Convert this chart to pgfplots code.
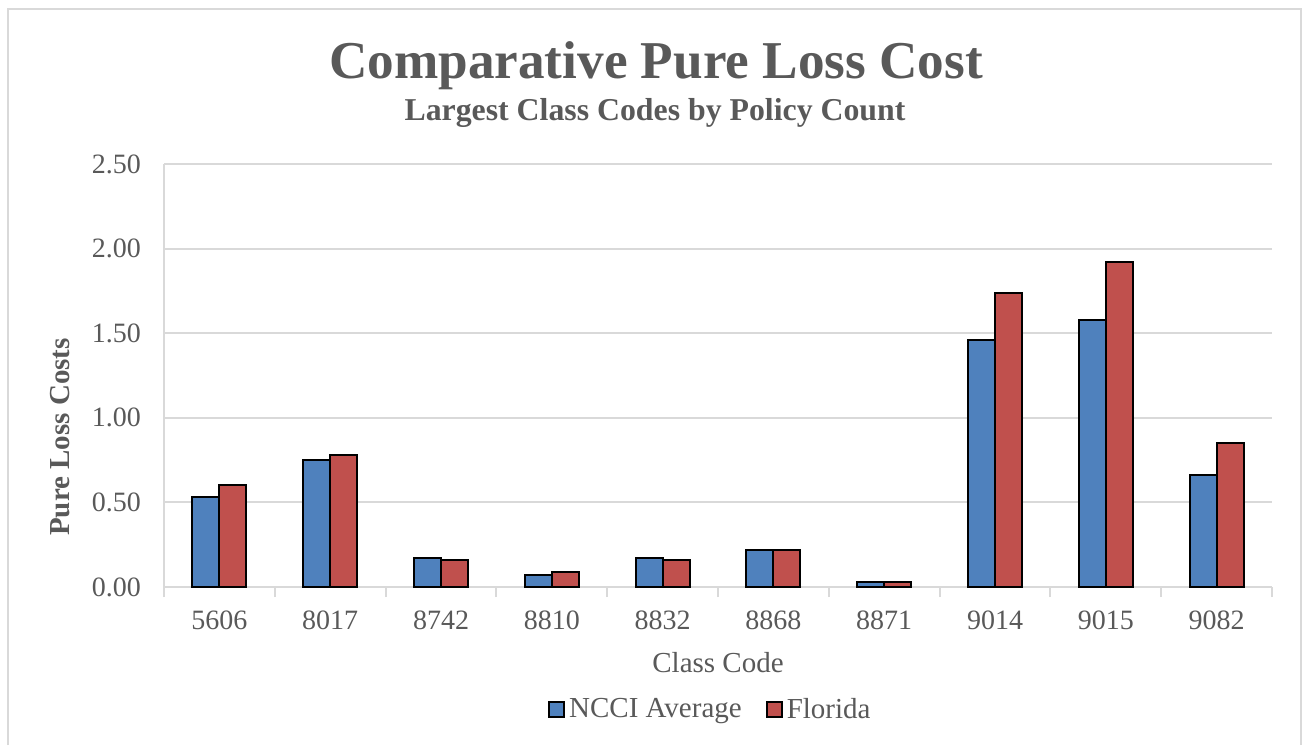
\documentclass[border=0pt]{standalone}
\usepackage{fontspec}
\setmainfont{Liberation Serif}
\usepackage{pgfplots}
\pgfplotsset{compat=1.18}
\definecolor{txtgray}{HTML}{595959}
\definecolor{gridgray}{HTML}{D9D9D9}
\definecolor{ncciblue}{HTML}{4F81BD}
\definecolor{flred}{HTML}{C0504D}

\pgfplotstableread{
x ncci florida
0 0.53 0.60
1 0.75 0.78
2 0.17 0.16
3 0.07 0.09
4 0.17 0.16
5 0.22 0.22
6 0.03 0.03
7 1.46 1.74
8 1.58 1.92
9 0.66 0.85
}\losscost

\begin{document}
\begin{tikzpicture}
\useasboundingbox (0,0) rectangle (651pt,372.5pt);
\draw[gridgray, line width=1.2pt] (4pt,0) -- (4pt,368pt) -- (650.5pt,368pt) -- (650.5pt,0);

% titles and y label
\node[txtgray, font=\fontsize{26.6}{30}\selectfont\bfseries, anchor=base] at (328pt,333pt) {Comparative Pure Loss Cost};
\node[txtgray, font=\fontsize{15.9}{18}\selectfont\bfseries, anchor=base] at (327.5pt,312pt) {Largest Class Codes by Policy Count};
\node[txtgray, font=\fontsize{14.5}{16}\selectfont\bfseries, rotate=90] at (30pt,154pt) {Pure Loss Costs};

\begin{axis}[
    at={(82pt,79pt)}, anchor=south west,
    scale only axis,
    width=554pt, height=211.5pt,
    ybar=0pt,
    bar width=0.244,
    xmin=-0.5, xmax=9.5,
    ymin=0, ymax=2.5,
    xtick={0,...,9},
    xticklabels={5606,8017,8742,8810,8832,8868,8871,9014,9015,9082},
    extra x ticks={-0.5,0.5,...,9.5},
    extra x tick labels={},
    extra x tick style={major tick length=5pt, tick align=outside, major tick style={draw=gridgray, line width=1pt}, grid=none},
    ytick={0,0.5,...,2.5},
    major tick length=0pt,
    ymajorgrids,
    grid style={draw=gridgray, line width=1pt},
    axis x line*=bottom,
    axis y line*=left,
    axis line style={draw=gridgray, line width=1pt},
    /pgf/number format/.cd, fixed, fixed zerofill, precision=2, assume math mode=true,
    /pgfplots/.cd,
    ticklabel style={txtgray, font=\fontsize{14}{16}\selectfont},
    xticklabel style={yshift=-8.5pt},
    yticklabel style={xshift=-8pt},
    xlabel={Class Code},
    xlabel style={txtgray, font=\fontsize{14.5}{16}\selectfont, at={(0.5,0)}, anchor=base, yshift=-42.5pt},
    legend style={at={(0.494,-0.29)}, anchor=center, draw=none, fill=none,
        legend columns=2, font=\fontsize{14.5}{16}\selectfont, text=txtgray,
        /tikz/every even column/.append style={column sep=10pt}},
    legend image code/.code={\draw[#1, draw=black, line width=1pt] (0pt,-3.5pt) rectangle (7.5pt,4pt);},
]
\addplot[fill=ncciblue, draw=black, line width=1pt] table[x=x, y=ncci] {\losscost};
\addlegendentry{NCCI Average}
\addplot[fill=flred, draw=black, line width=1pt] table[x=x, y=florida] {\losscost};
\addlegendentry{Florida}
\end{axis}
\end{tikzpicture}
\end{document}
